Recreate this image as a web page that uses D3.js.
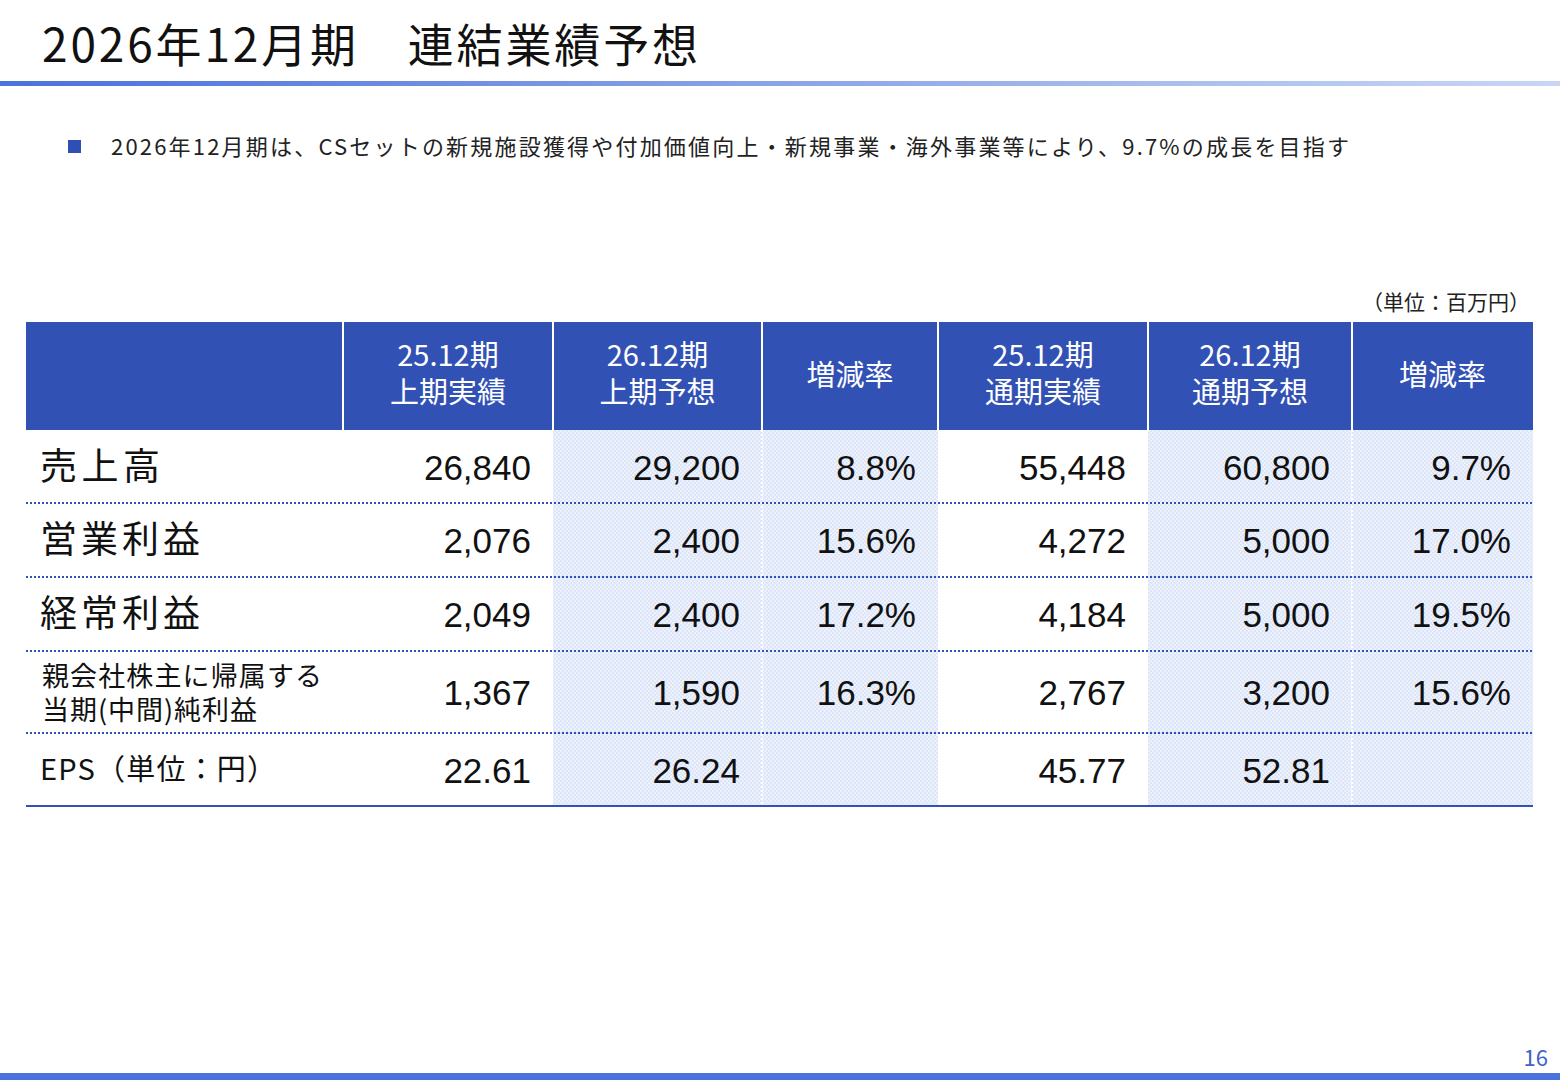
<!DOCTYPE html><html><head><meta charset="utf-8"><script src="https://cdn.jsdelivr.net/npm/d3@7"></script>
<style>body{margin:0;background:#fff}text{font-family:"Noto Sans CJK JP","Noto Sans",sans-serif}text.num{font-family:"Liberation Sans",Arial,sans-serif}</style></head><body>
<script>
const headers=[["",""],["25.12期","上期実績"],["26.12期","上期予想"],["増減率"],["25.12期","通期実績"],["26.12期","通期予想"],["増減率"]];
const rowLabels=[["売上高"],["営業利益"],["経常利益"],["親会社株主に帰属する","当期(中間)純利益"],["EPS（単位：円）"]];
const h1Actual=[26840,2076,2049,1367,22.61];
const h1Forecast=[29200,2400,2400,1590,26.24];
const h1Rate=[8.8,15.6,17.2,16.3,null];
const fyActual=[55448,4272,4184,2767,45.77];
const fyForecast=[60800,5000,5000,3200,52.81];
const fyRate=[9.7,17.0,19.5,15.6,null];
const colEdges=[26,343,553,762,938,1148,1352,1533];
const rowEdges=[430,503,577,651,733,806];
const shaded=[false,false,true,true,false,true,true];

const svg=d3.select("body").append("svg").attr("width",1560).attr("height",1080);
const defs=svg.append("defs");
const g=defs.append("linearGradient").attr("id","tl");
g.append("stop").attr("offset","0").attr("stop-color","#4b72dc");
g.append("stop").attr("offset","1").attr("stop-color","#c9d6f4");
const p=defs.append("pattern").attr("id","pt").attr("width",4).attr("height",4).attr("patternUnits","userSpaceOnUse");
p.append("rect").attr("width",4).attr("height",4).attr("fill","#ecf1fc");
p.append("rect").attr("width",2).attr("height",2).attr("fill","#dde6f8");
p.append("rect").attr("x",2).attr("y",2).attr("width",2).attr("height",2).attr("fill","#dde6f8");

svg.append("text").attr("x",42).attr("y",62).attr("font-size",46).attr("fill","#111").attr("textLength",656).attr("lengthAdjust","spacing").text("2026年12月期　連結業績予想");
svg.append("rect").attr("x",0).attr("y",81).attr("width",1560).attr("height",5).attr("fill","url(#tl)");
svg.append("rect").attr("x",68).attr("y",140).attr("width",13).attr("height",13).attr("fill","#2f4fb5");
svg.append("text").attr("x",111).attr("y",155).attr("font-size",22).attr("fill","#222").attr("textLength",1238).attr("lengthAdjust","spacing").text("2026年12月期は、CSセットの新規施設獲得や付加価値向上・新規事業・海外事業等により、9.7%の成長を目指す");
svg.append("text").attr("x",1530).attr("y",310).attr("text-anchor","end").attr("font-size",21).attr("fill","#222").text("（単位：百万円）");

const x=i=>colEdges[i];
shaded.forEach((s,i)=>{if(s)svg.append("rect").attr("x",x(i)).attr("y",rowEdges[0]).attr("width",x(i+1)-x(i)).attr("height",rowEdges[5]-rowEdges[0]).attr("fill","url(#pt)");});
svg.append("rect").attr("x",26).attr("y",322).attr("width",1507).attr("height",108).attr("fill","#3251b4");
headers.forEach((h,i)=>{
  const cx=(x(i)+x(i+1))/2;
  if(i>0)svg.append("line").attr("x1",x(i)).attr("x2",x(i)).attr("y1",322).attr("y2",430).attr("stroke","#fff").attr("stroke-width",2);
  h.forEach((t,j)=>svg.append("text").attr("x",cx).attr("y",h.length===2?366+j*37:386).attr("text-anchor","middle").attr("font-size",29).attr("fill","#fff").text(t));
});
[3,6].forEach(i=>svg.append("line").attr("x1",x(i)).attr("x2",x(i)).attr("y1",430).attr("y2",806).attr("stroke","#fff").attr("stroke-width",2).attr("stroke-dasharray","2,2"));
rowEdges.slice(1).forEach((y,k)=>svg.append("line").attr("x1",26).attr("x2",1533).attr("y1",y).attr("y2",y).attr("stroke","#3251b4").attr("stroke-width",2).attr("stroke-dasharray",k===4?null:"2,2"));
const fmt=(v,dec)=>v==null?"":(dec?d3.format(",.2f")(v):d3.format(",")(v));
const cols=[h1Actual,h1Forecast,h1Rate,fyActual,fyForecast,fyRate];
rowLabels.forEach((l,r)=>{
  const y0=rowEdges[r],y1=rowEdges[r+1],cy=(y0+y1)/2;
  if(l.length===2) l.forEach((t,j)=>svg.append("text").attr("x",42).attr("y",cy-6+j*34).attr("font-size",27).attr("fill","#111").attr("textLength",j===0?280:215).attr("lengthAdjust","spacing").text(t));
  else svg.append("text").attr("x",40).attr("y",cy+(r===4?10:13)).attr("font-size",r===4?29:37).attr("fill","#111").attr("textLength",r===4?236:(l[0].length*40)).attr("lengthAdjust","spacing").text(l[0]);
  cols.forEach((c,i)=>{
    const rate=i===2||i===5;
    const t=rate?(c[r]==null?"":c[r].toFixed(1)+"%"):fmt(c[r],r===4);
    svg.append("text").attr("class","num").attr("x",x(i+2)-22).attr("y",cy+13).attr("text-anchor","end").attr("font-size",35).attr("fill","#111").text(t);
  });
});
svg.append("text").attr("x",1548).attr("y",1066).attr("text-anchor","end").attr("font-size",22).attr("fill","#3f63c9").text("16");
svg.append("rect").attr("x",0).attr("y",1073).attr("width",1560).attr("height",7).attr("fill","#4b72dc");
</script></body></html>
